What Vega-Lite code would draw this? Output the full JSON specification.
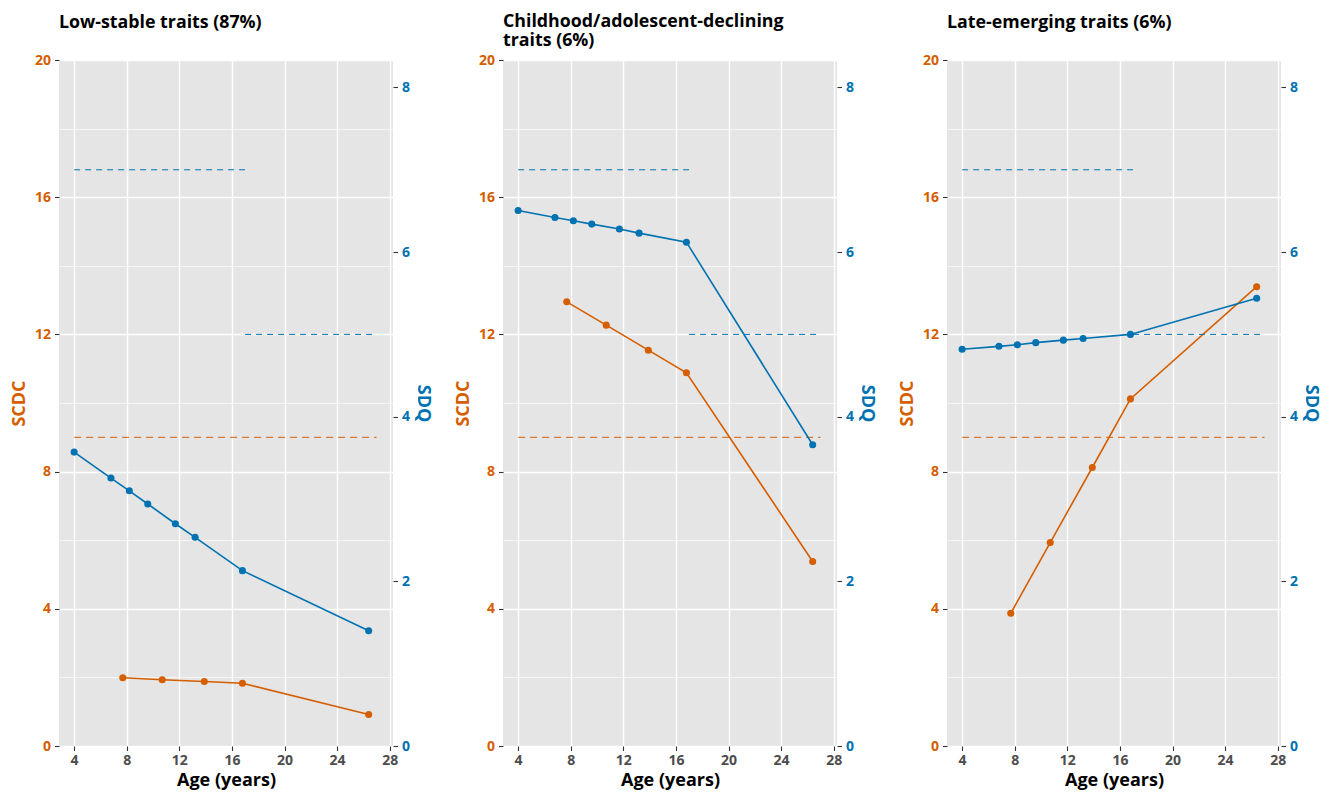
{
  "$schema": "https://vega.github.io/schema/vega-lite/v6.json",
  "padding": {"left": 10, "top": 12, "right": 5, "bottom": 5},
  "background": "white",
  "config": {
    "font": "Open Sans",
    "view": {"fill": "#E5E5E5", "stroke": null},
    "title": {"fontSize": 17.8, "fontWeight": "bold", "color": "#000000", "anchor": "start", "frame": "group", "lineHeight": 19.5},
    "axis": {"labelFontWeight": "bold", "labelFontSize": 14, "titleFontSize": 18, "titleFontWeight": "bold", "domain": false, "tickColor": "#333333", "tickSize": 4.5, "tickWidth": 1.1, "labelPadding": 4, "labelOverlap": false, "gridColor": "#FFFFFF"}
  },
  "datasets": {
    "scdc": [
      {"panel": "low", "age": 7.7, "value": 1.99},
      {"panel": "low", "age": 10.7, "value": 1.93},
      {"panel": "low", "age": 13.9, "value": 1.88},
      {"panel": "low", "age": 16.8, "value": 1.83},
      {"panel": "low", "age": 26.4, "value": 0.92},
      {"panel": "decl", "age": 7.7, "value": 12.95},
      {"panel": "decl", "age": 10.7, "value": 12.27},
      {"panel": "decl", "age": 13.9, "value": 11.54},
      {"panel": "decl", "age": 16.8, "value": 10.88},
      {"panel": "decl", "age": 26.4, "value": 5.38},
      {"panel": "late", "age": 7.7, "value": 3.87},
      {"panel": "late", "age": 10.7, "value": 5.93},
      {"panel": "late", "age": 13.9, "value": 8.12},
      {"panel": "late", "age": 16.8, "value": 10.12},
      {"panel": "late", "age": 26.4, "value": 13.39}
    ],
    "sdq": [
      {"panel": "low", "age": 4, "value": 3.57},
      {"panel": "low", "age": 6.8, "value": 3.255},
      {"panel": "low", "age": 8.2, "value": 3.1},
      {"panel": "low", "age": 9.6, "value": 2.94},
      {"panel": "low", "age": 11.7, "value": 2.7},
      {"panel": "low", "age": 13.2, "value": 2.535},
      {"panel": "low", "age": 16.8, "value": 2.13},
      {"panel": "low", "age": 26.4, "value": 1.4},
      {"panel": "decl", "age": 4, "value": 6.505},
      {"panel": "decl", "age": 6.8, "value": 6.42},
      {"panel": "decl", "age": 8.2, "value": 6.38},
      {"panel": "decl", "age": 9.6, "value": 6.34},
      {"panel": "decl", "age": 11.7, "value": 6.28},
      {"panel": "decl", "age": 13.2, "value": 6.23},
      {"panel": "decl", "age": 16.8, "value": 6.12},
      {"panel": "decl", "age": 26.4, "value": 3.66},
      {"panel": "late", "age": 4, "value": 4.82},
      {"panel": "late", "age": 6.8, "value": 4.855},
      {"panel": "late", "age": 8.2, "value": 4.875},
      {"panel": "late", "age": 9.6, "value": 4.9},
      {"panel": "late", "age": 11.7, "value": 4.93},
      {"panel": "late", "age": 13.2, "value": 4.95},
      {"panel": "late", "age": 16.8, "value": 5.0},
      {"panel": "late", "age": 26.4, "value": 5.44}
    ],
    "ref": [
      {"measure": "SCDC", "start": 4, "end": 27, "value": 9},
      {"measure": "SDQ", "start": 4, "end": 17, "value": 7},
      {"measure": "SDQ", "start": 17, "end": 27, "value": 5}
    ]
  },
  "hconcat": [
    {
      "width": 334, "height": 686,
      "title": {"text": "Low-stable traits (87%)", "offset": 21},
      "layer": [
        {"layer": [
          {"data": {"name": "ref"}, "transform": [{"filter": "datum.measure === 'SCDC'"}],
           "mark": {"type": "rule", "color": "#D55E00", "strokeWidth": 1, "strokeDash": [7, 5]},
           "encoding": {
             "x": {"field": "start", "type": "quantitative", "scale": {"domain": [2.85, 28.25], "nice": false, "zero": false},
                   "axis": {"values": [4,6,8,10,12,14,16,18,20,22,24,26,28], "grid": true, "title": "Age (years)", "titleColor": "#000000", "labelColor": "#4D4D4D", "labelPadding": 3,
                            "labelExpr": "datum.value % 4 === 0 ? datum.label : ''",
                            "tickOpacity": {"condition": {"test": "datum.value % 4 === 0", "value": 1}, "value": 0},
                            "gridWidth": {"condition": {"test": "datum.value % 4 === 0", "value": 1.4}, "value": 0.7}}},
             "x2": {"field": "end"},
             "y": {"field": "value", "type": "quantitative", "scale": {"domain": [0, 20], "nice": false},
                   "axis": {"orient": "left", "values": [0,2,4,6,8,10,12,14,16,18,20], "grid": true, "title": "SCDC", "titleColor": "#D55E00", "labelColor": "#D55E00", "titlePadding": 6,
                            "labelExpr": "datum.value % 4 === 0 ? datum.label : ''",
                            "tickOpacity": {"condition": {"test": "datum.value % 4 === 0", "value": 1}, "value": 0},
                            "gridWidth": {"condition": {"test": "datum.value % 4 === 0", "value": 1.4}, "value": 0.7}}}
           }},
          {"data": {"name": "scdc"}, "transform": [{"filter": "datum.panel === 'low'"}],
           "mark": {"type": "line", "color": "#D55E00", "strokeWidth": 1.6, "point": {"filled": true, "size": 50, "color": "#D55E00", "opacity": 1}},
           "encoding": {"x": {"field": "age", "type": "quantitative"}, "y": {"field": "value", "type": "quantitative"}}}
        ]},
        {"layer": [
          {"data": {"name": "ref"}, "transform": [{"filter": "datum.measure === 'SDQ'"}],
           "mark": {"type": "rule", "color": "#0072B2", "strokeWidth": 1, "strokeDash": [6, 5]},
           "encoding": {
             "x": {"field": "start", "type": "quantitative"},
             "x2": {"field": "end"},
             "y": {"field": "value", "type": "quantitative", "scale": {"domain": [0, 8.3333], "nice": false},
                   "axis": {"orient": "right", "values": [0,2,4,6,8], "format": "d", "grid": false, "title": "SDQ", "titleColor": "#0072B2", "labelColor": "#0072B2", "titlePadding": 4}}
           }},
          {"data": {"name": "sdq"}, "transform": [{"filter": "datum.panel === 'low'"}],
           "mark": {"type": "line", "color": "#0072B2", "strokeWidth": 1.6, "point": {"filled": true, "size": 50, "color": "#0072B2", "opacity": 1}},
           "encoding": {"x": {"field": "age", "type": "quantitative"}, "y": {"field": "value", "type": "quantitative"}}}
        ]}
      ],
      "resolve": {"scale": {"y": "independent"}, "axis": {"y": "independent"}}
    },
    {
      "width": 334, "height": 686,
      "title": {"text": ["Childhood/adolescent-declining", "traits (6%)"], "offset": 3},
      "layer": [
        {"layer": [
          {"data": {"name": "ref"}, "transform": [{"filter": "datum.measure === 'SCDC'"}],
           "mark": {"type": "rule", "color": "#D55E00", "strokeWidth": 1, "strokeDash": [7, 5]},
           "encoding": {
             "x": {"field": "start", "type": "quantitative", "scale": {"domain": [2.85, 28.25], "nice": false, "zero": false},
                   "axis": {"values": [4,6,8,10,12,14,16,18,20,22,24,26,28], "grid": true, "title": "Age (years)", "titleColor": "#000000", "labelColor": "#4D4D4D", "labelPadding": 3,
                            "labelExpr": "datum.value % 4 === 0 ? datum.label : ''",
                            "tickOpacity": {"condition": {"test": "datum.value % 4 === 0", "value": 1}, "value": 0},
                            "gridWidth": {"condition": {"test": "datum.value % 4 === 0", "value": 1.4}, "value": 0.7}}},
             "x2": {"field": "end"},
             "y": {"field": "value", "type": "quantitative", "scale": {"domain": [0, 20], "nice": false},
                   "axis": {"orient": "left", "values": [0,2,4,6,8,10,12,14,16,18,20], "grid": true, "title": "SCDC", "titleColor": "#D55E00", "labelColor": "#D55E00", "titlePadding": 6,
                            "labelExpr": "datum.value % 4 === 0 ? datum.label : ''",
                            "tickOpacity": {"condition": {"test": "datum.value % 4 === 0", "value": 1}, "value": 0},
                            "gridWidth": {"condition": {"test": "datum.value % 4 === 0", "value": 1.4}, "value": 0.7}}}
           }},
          {"data": {"name": "scdc"}, "transform": [{"filter": "datum.panel === 'decl'"}],
           "mark": {"type": "line", "color": "#D55E00", "strokeWidth": 1.6, "point": {"filled": true, "size": 50, "color": "#D55E00", "opacity": 1}},
           "encoding": {"x": {"field": "age", "type": "quantitative"}, "y": {"field": "value", "type": "quantitative"}}}
        ]},
        {"layer": [
          {"data": {"name": "ref"}, "transform": [{"filter": "datum.measure === 'SDQ'"}],
           "mark": {"type": "rule", "color": "#0072B2", "strokeWidth": 1, "strokeDash": [6, 5]},
           "encoding": {
             "x": {"field": "start", "type": "quantitative"},
             "x2": {"field": "end"},
             "y": {"field": "value", "type": "quantitative", "scale": {"domain": [0, 8.3333], "nice": false},
                   "axis": {"orient": "right", "values": [0,2,4,6,8], "format": "d", "grid": false, "title": "SDQ", "titleColor": "#0072B2", "labelColor": "#0072B2", "titlePadding": 4}}
           }},
          {"data": {"name": "sdq"}, "transform": [{"filter": "datum.panel === 'decl'"}],
           "mark": {"type": "line", "color": "#0072B2", "strokeWidth": 1.6, "point": {"filled": true, "size": 50, "color": "#0072B2", "opacity": 1}},
           "encoding": {"x": {"field": "age", "type": "quantitative"}, "y": {"field": "value", "type": "quantitative"}}}
        ]}
      ],
      "resolve": {"scale": {"y": "independent"}, "axis": {"y": "independent"}}
    },
    {
      "width": 334, "height": 686,
      "title": {"text": "Late-emerging traits (6%)", "offset": 21},
      "layer": [
        {"layer": [
          {"data": {"name": "ref"}, "transform": [{"filter": "datum.measure === 'SCDC'"}],
           "mark": {"type": "rule", "color": "#D55E00", "strokeWidth": 1, "strokeDash": [7, 5]},
           "encoding": {
             "x": {"field": "start", "type": "quantitative", "scale": {"domain": [2.85, 28.25], "nice": false, "zero": false},
                   "axis": {"values": [4,6,8,10,12,14,16,18,20,22,24,26,28], "grid": true, "title": "Age (years)", "titleColor": "#000000", "labelColor": "#4D4D4D", "labelPadding": 3,
                            "labelExpr": "datum.value % 4 === 0 ? datum.label : ''",
                            "tickOpacity": {"condition": {"test": "datum.value % 4 === 0", "value": 1}, "value": 0},
                            "gridWidth": {"condition": {"test": "datum.value % 4 === 0", "value": 1.4}, "value": 0.7}}},
             "x2": {"field": "end"},
             "y": {"field": "value", "type": "quantitative", "scale": {"domain": [0, 20], "nice": false},
                   "axis": {"orient": "left", "values": [0,2,4,6,8,10,12,14,16,18,20], "grid": true, "title": "SCDC", "titleColor": "#D55E00", "labelColor": "#D55E00", "titlePadding": 6,
                            "labelExpr": "datum.value % 4 === 0 ? datum.label : ''",
                            "tickOpacity": {"condition": {"test": "datum.value % 4 === 0", "value": 1}, "value": 0},
                            "gridWidth": {"condition": {"test": "datum.value % 4 === 0", "value": 1.4}, "value": 0.7}}}
           }},
          {"data": {"name": "scdc"}, "transform": [{"filter": "datum.panel === 'late'"}],
           "mark": {"type": "line", "color": "#D55E00", "strokeWidth": 1.6, "point": {"filled": true, "size": 50, "color": "#D55E00", "opacity": 1}},
           "encoding": {"x": {"field": "age", "type": "quantitative"}, "y": {"field": "value", "type": "quantitative"}}}
        ]},
        {"layer": [
          {"data": {"name": "ref"}, "transform": [{"filter": "datum.measure === 'SDQ'"}],
           "mark": {"type": "rule", "color": "#0072B2", "strokeWidth": 1, "strokeDash": [6, 5]},
           "encoding": {
             "x": {"field": "start", "type": "quantitative"},
             "x2": {"field": "end"},
             "y": {"field": "value", "type": "quantitative", "scale": {"domain": [0, 8.3333], "nice": false},
                   "axis": {"orient": "right", "values": [0,2,4,6,8], "format": "d", "grid": false, "title": "SDQ", "titleColor": "#0072B2", "labelColor": "#0072B2", "titlePadding": 4}}
           }},
          {"data": {"name": "sdq"}, "transform": [{"filter": "datum.panel === 'late'"}],
           "mark": {"type": "line", "color": "#0072B2", "strokeWidth": 1.6, "point": {"filled": true, "size": 50, "color": "#0072B2", "opacity": 1}},
           "encoding": {"x": {"field": "age", "type": "quantitative"}, "y": {"field": "value", "type": "quantitative"}}}
        ]}
      ],
      "resolve": {"scale": {"y": "independent"}, "axis": {"y": "independent"}}
    }
  ],
  "spacing": 110,
  "bounds": "flush"
}
